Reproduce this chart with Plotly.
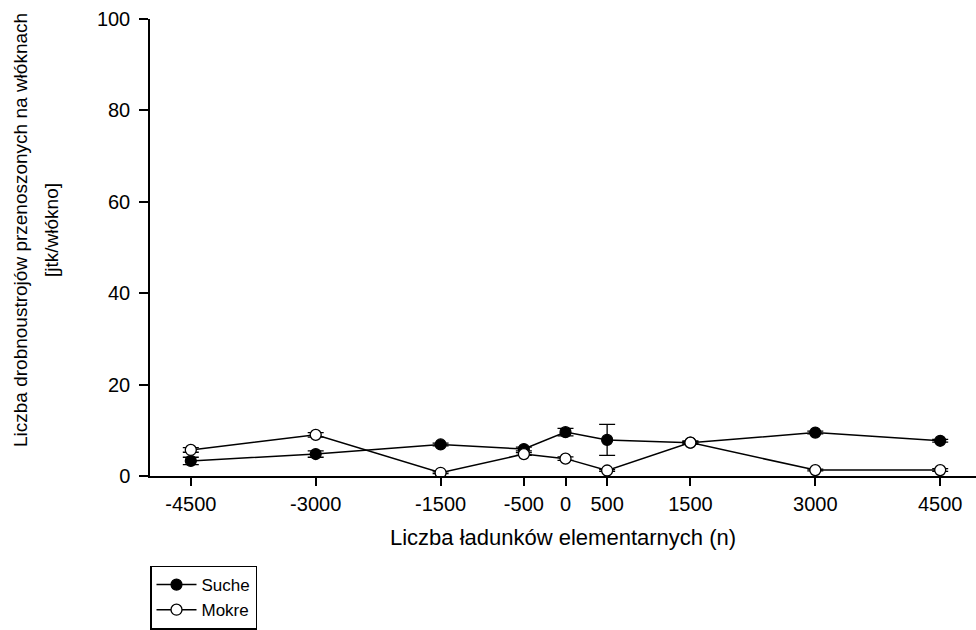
import plotly.graph_objects as go

x_vals = [-4500, -3000, -1500, -500, 0, 500, 1500, 3000, 4500]
suche = [3.3, 4.8, 6.9, 5.9, 9.6, 7.9, 7.3, 9.5, 7.7]
suche_err = [0.8, 0.7, 0.3, 0.4, 0.8, 3.4, 0.3, 0.3, 0.3]
mokre = [5.7, 9.0, 0.7, 4.8, 3.8, 1.2, 7.3, 1.3, 1.3]
mokre_err = [0.5, 0.5, 0.2, 0.3, 0.4, 0.2, 0.3, 0.2, 0.3]
x_ticks = [-4500, -3000, -1500, -500, 0, 500, 1500, 3000, 4500]
y_ticks = [0, 20, 40, 60, 80, 100]

FONT = "Arial, Liberation Sans, sans-serif"

fig = go.Figure()
fig.add_trace(go.Scatter(
    x=x_vals, y=suche, name="Suche", mode="lines+markers",
    line=dict(color="black", width=1.5),
    marker=dict(symbol="circle", size=11, color="black", line=dict(color="black", width=1.2)),
    error_y=dict(type="data", array=suche_err, color="black", thickness=1.3, width=8),
))
fig.add_trace(go.Scatter(
    x=x_vals, y=mokre, name="Mokre", mode="lines+markers",
    line=dict(color="black", width=1.5),
    marker=dict(symbol="circle", size=11, color="white", line=dict(color="black", width=1.3)),
    error_y=dict(type="data", array=mokre_err, color="black", thickness=1.3, width=8),
))

fig.update_layout(
    width=976, height=630,
    margin=dict(l=150, r=0, t=19, b=154),
    plot_bgcolor="white", paper_bgcolor="white",
    font=dict(family=FONT, color="black", size=18),
    showlegend=True,
    legend=dict(
        x=0, y=-0.196, xanchor="left", yanchor="top",
        bordercolor="black", borderwidth=1.5, bgcolor="white",
        font=dict(size=17, family=FONT), itemwidth=40,
        tracegroupgap=0,
    ),
    xaxis=dict(
        range=[-4990, 4930], tickvals=x_ticks, ticktext=[str(v) for v in x_ticks],
        showgrid=False, zeroline=False, showline=True, linecolor="black", linewidth=1.5,
        ticks="outside", ticklen=8, tickcolor="black", tickwidth=1.5,
        tickfont=dict(size=20), ticklabelstandoff=1,
        title=dict(text="Liczba ładunków elementarnych (n)", font=dict(size=22), standoff=16),
    ),
    yaxis=dict(
        range=[0, 100], tickvals=y_ticks,
        showgrid=False, zeroline=False, showline=True, linecolor="black", linewidth=1.5,
        ticks="outside", ticklen=9, tickcolor="black", tickwidth=1.5,
        tickfont=dict(size=20), ticklabelstandoff=5,
    ),
)

fig.add_annotation(
    text="Liczba drobnoustrojów przenoszonych na włóknach",
    xref="paper", yref="paper", x=(20 - 150) / 826, y=(476 - 230) / 457,
    xanchor="center", yanchor="middle", textangle=-90, showarrow=False,
    font=dict(size=19, family=FONT),
)
fig.add_annotation(
    text="[jtk/włókno]",
    xref="paper", yref="paper", x=(51 - 150) / 826, y=(476 - 230) / 457,
    xanchor="center", yanchor="middle", textangle=-90, showarrow=False,
    font=dict(size=19, family=FONT),
)

fig.write_html("out.html")
